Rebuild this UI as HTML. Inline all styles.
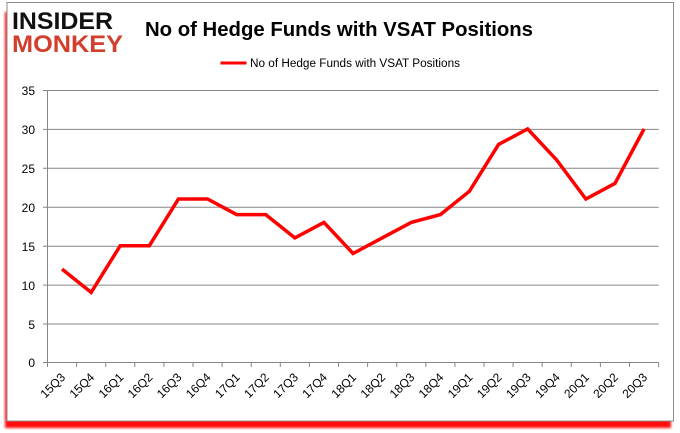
<!DOCTYPE html>
<html><head><meta charset="utf-8"><style>
html,body{margin:0;padding:0;background:#fff;}
svg{display:block;}
</style></head><body>
<svg width="680" height="433" viewBox="0 0 680 433" xmlns="http://www.w3.org/2000/svg">
<defs>
<filter id="sh" x="-5%" y="-5%" width="110%" height="115%">
<feGaussianBlur stdDeviation="1.3"/>
</filter>
</defs>
<rect x="0" y="0" width="680" height="433" fill="#fff"/>
<!-- shadow -->
<rect x="5" y="12" width="666" height="416" fill="#ff0000" filter="url(#sh)" opacity="0.95"/>
<rect x="7" y="2.5" width="666.5" height="418.5" fill="#fff" stroke="#8c8c8c" stroke-width="1"/>

<!-- logo -->
<text x="12" y="29" font-family="Liberation Sans, sans-serif" font-weight="bold" font-size="24" fill="#111" textLength="101" lengthAdjust="spacingAndGlyphs">INSIDER</text>
<text x="12" y="52" font-family="Liberation Sans, sans-serif" font-weight="bold" font-size="24" fill="#d2402d" textLength="111" lengthAdjust="spacingAndGlyphs">MONKEY</text>

<!-- title -->
<text x="145" y="36" font-family="Liberation Sans, sans-serif" font-weight="bold" font-size="20" fill="#000" textLength="388" lengthAdjust="spacingAndGlyphs">No of Hedge Funds with VSAT Positions</text>

<!-- legend -->
<line x1="220.5" y1="63" x2="246.5" y2="63" stroke="#ff0000" stroke-width="3"/>
<text x="250" y="67" font-family="Liberation Sans, sans-serif" font-size="11.5" fill="#000" textLength="210" lengthAdjust="spacingAndGlyphs">No of Hedge Funds with VSAT Positions</text>

<!-- grid -->
<g stroke="#868686" stroke-width="1">
<line x1="43" y1="90.5" x2="658.7" y2="90.5"/>
<line x1="43" y1="129.4" x2="658.7" y2="129.4"/>
<line x1="43" y1="168.3" x2="658.7" y2="168.3"/>
<line x1="43" y1="207.3" x2="658.7" y2="207.3"/>
<line x1="43" y1="246.2" x2="658.7" y2="246.2"/>
<line x1="43" y1="285.1" x2="658.7" y2="285.1"/>
<line x1="43" y1="324" x2="658.7" y2="324"/>
<line x1="43" y1="362.5" x2="658.7" y2="362.5"/>
<line x1="47.5" y1="90" x2="47.5" y2="362.5"/>
</g>

<!-- y labels -->
<g font-family="Liberation Sans, sans-serif" font-size="12" fill="#000" text-anchor="end">
<text x="35" y="95">35</text>
<text x="35" y="134">30</text>
<text x="35" y="173">25</text>
<text x="35" y="212">20</text>
<text x="35" y="251">15</text>
<text x="35" y="290">10</text>
<text x="35" y="329">5</text>
<text x="35" y="367">0</text>
</g>

<!-- x ticks -->
<g stroke="#868686" stroke-width="1">
<line x1="47.5" y1="362.5" x2="47.5" y2="367"/>
<line x1="76.6" y1="362.5" x2="76.6" y2="367"/>
<line x1="105.7" y1="362.5" x2="105.7" y2="367"/>
<line x1="134.8" y1="362.5" x2="134.8" y2="367"/>
<line x1="163.9" y1="362.5" x2="163.9" y2="367"/>
<line x1="193" y1="362.5" x2="193" y2="367"/>
<line x1="222.1" y1="362.5" x2="222.1" y2="367"/>
<line x1="251.2" y1="362.5" x2="251.2" y2="367"/>
<line x1="280.3" y1="362.5" x2="280.3" y2="367"/>
<line x1="309.4" y1="362.5" x2="309.4" y2="367"/>
<line x1="338.5" y1="362.5" x2="338.5" y2="367"/>
<line x1="367.6" y1="362.5" x2="367.6" y2="367"/>
<line x1="396.7" y1="362.5" x2="396.7" y2="367"/>
<line x1="425.8" y1="362.5" x2="425.8" y2="367"/>
<line x1="454.9" y1="362.5" x2="454.9" y2="367"/>
<line x1="484" y1="362.5" x2="484" y2="367"/>
<line x1="513.1" y1="362.5" x2="513.1" y2="367"/>
<line x1="542.2" y1="362.5" x2="542.2" y2="367"/>
<line x1="571.3" y1="362.5" x2="571.3" y2="367"/>
<line x1="600.4" y1="362.5" x2="600.4" y2="367"/>
<line x1="629.5" y1="362.5" x2="629.5" y2="367"/>
<line x1="658.6" y1="362.5" x2="658.6" y2="367"/>
</g>

<!-- x labels -->
<g font-family="Liberation Sans, sans-serif" font-size="12" fill="#000" text-anchor="end">
<text transform="translate(66,378) rotate(-45)">15Q3</text>
<text transform="translate(95.1,378) rotate(-45)">15Q4</text>
<text transform="translate(124.2,378) rotate(-45)">16Q1</text>
<text transform="translate(153.3,378) rotate(-45)">16Q2</text>
<text transform="translate(182.4,378) rotate(-45)">16Q3</text>
<text transform="translate(211.5,378) rotate(-45)">16Q4</text>
<text transform="translate(240.6,378) rotate(-45)">17Q1</text>
<text transform="translate(269.7,378) rotate(-45)">17Q2</text>
<text transform="translate(298.8,378) rotate(-45)">17Q3</text>
<text transform="translate(327.9,378) rotate(-45)">17Q4</text>
<text transform="translate(357,378) rotate(-45)">18Q1</text>
<text transform="translate(386.1,378) rotate(-45)">18Q2</text>
<text transform="translate(415.2,378) rotate(-45)">18Q3</text>
<text transform="translate(444.3,378) rotate(-45)">18Q4</text>
<text transform="translate(473.4,378) rotate(-45)">19Q1</text>
<text transform="translate(502.5,378) rotate(-45)">19Q2</text>
<text transform="translate(531.6,378) rotate(-45)">19Q3</text>
<text transform="translate(560.7,378) rotate(-45)">19Q4</text>
<text transform="translate(589.8,378) rotate(-45)">20Q1</text>
<text transform="translate(618.9,378) rotate(-45)">20Q2</text>
<text transform="translate(648,378) rotate(-45)">20Q3</text>
</g>

<!-- series -->
<polyline fill="none" stroke="#ff0000" stroke-width="3.5" stroke-linejoin="miter" stroke-linecap="butt"
points="62.05,269.1 91.15,292.4 120.25,245.7 149.35,245.7 178.45,199.0 207.55,199.0 236.65,214.6 265.75,214.6 294.85,237.9 323.95,222.4 353.05,253.5 382.15,237.9 411.25,222.4 440.35,214.6 469.45,191.2 498.55,144.5 527.65,128.9 556.75,160.1 585.85,199.0 614.95,183.4 644.05,128.9"/>
</svg>
</body></html>
